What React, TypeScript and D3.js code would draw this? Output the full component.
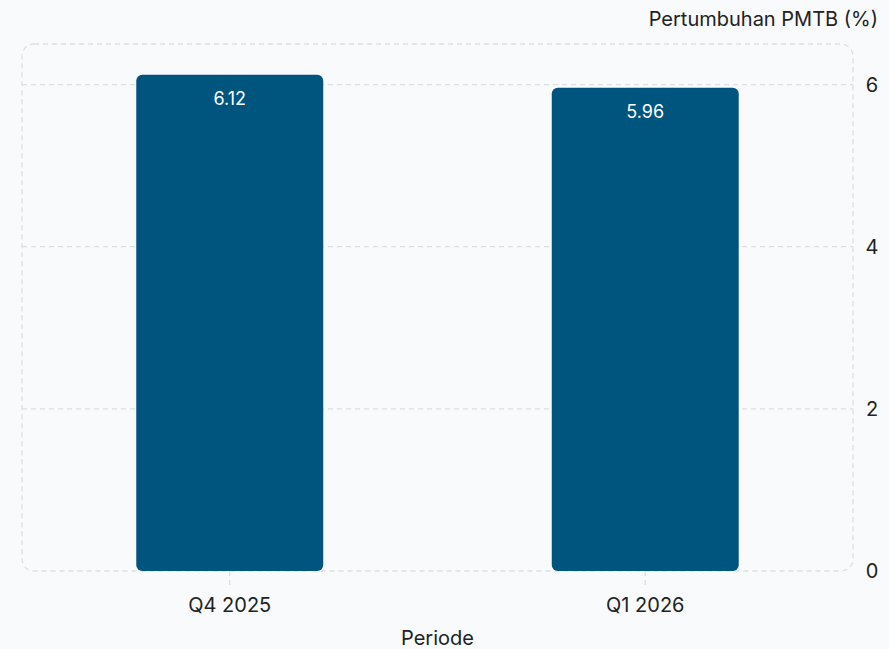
import { useEffect, useRef } from "react";
import * as d3 from "d3";

const periods = ["Q4 2025", "Q1 2026"];
const growth = [6.12, 5.96];
const yTicks = [0, 2, 4, 6];

const W = 889;
const H = 649;
const m = { top: 44, right: 36, bottom: 78, left: 22 };

const App = () => {
  const svgRef = useRef<SVGSVGElement>(null);

  useEffect(() => {
    document.body.style.margin = "0";
    const svg = d3.select(svgRef.current);
    svg.selectAll("*").remove();

    const x = d3
      .scaleBand()
      .domain(periods)
      .range([m.left, W - m.right])
      .padding(0);
    const y = d3
      .scaleLinear()
      .domain([0, 6.5])
      .range([H - m.bottom, m.top]);

    const font = "Inter, 'Noto Sans', sans-serif";

    svg.append("rect").attr("width", W).attr("height", H).attr("fill", "#f8fafc");

    // grid
    svg
      .append("g")
      .selectAll("line")
      .data(yTicks.filter((t) => t > 0))
      .join("line")
      .attr("x1", m.left)
      .attr("x2", W - m.right)
      .attr("y1", (d) => y(d))
      .attr("y2", (d) => y(d))
      .attr("stroke", "#dcdfe3")
      .attr("stroke-width", 1.3)
      .attr("stroke-dasharray", "5,4");

    // border of plot
    svg
      .append("rect")
      .attr("x", m.left)
      .attr("y", m.top)
      .attr("width", W - m.right - m.left)
      .attr("height", y(0) - m.top)
      .attr("rx", 12)
      .attr("fill", "none")
      .attr("stroke", "#dcdfe3")
      .attr("stroke-width", 1.3)
      .attr("stroke-dasharray", "5,4");

    // x ticks
    svg
      .append("g")
      .selectAll("line")
      .data(periods)
      .join("line")
      .attr("x1", (d) => x(d)! + x.bandwidth() / 2)
      .attr("x2", (d) => x(d)! + x.bandwidth() / 2)
      .attr("y1", y(0))
      .attr("y2", y(0) + 14)
      .attr("stroke", "#dcdfe3")
      .attr("stroke-width", 1.3)
      .attr("stroke-dasharray", "5,4");

    const bw = x.bandwidth() * 0.45;
    const bars = svg.append("g");
    bars
      .selectAll("rect")
      .data(periods)
      .join("rect")
      .attr("x", (d) => x(d)! + (x.bandwidth() - bw) / 2)
      .attr("width", bw)
      .attr("y", (_, i) => y(growth[i]))
      .attr("height", (_, i) => y(0) - y(growth[i]))
      .attr("rx", 6)
      .attr("fill", "#00557f");

    bars
      .selectAll("text")
      .data(periods)
      .join("text")
      .attr("x", (d) => x(d)! + x.bandwidth() / 2)
      .attr("y", (_, i) => y(growth[i]) + 30)
      .attr("text-anchor", "middle")
      .attr("fill", "#ffffff")
      .attr("font-family", font)
      .attr("font-size", 18)
      .text((_, i) => growth[i].toFixed(2));

    // x labels
    svg
      .append("g")
      .selectAll("text")
      .data(periods)
      .join("text")
      .attr("x", (d) => x(d)! + x.bandwidth() / 2)
      .attr("y", y(0) + 41)
      .attr("text-anchor", "middle")
      .attr("fill", "#222")
      .attr("font-family", font)
      .attr("font-size", 20)
      .text((d) => d);

    // y labels on the right
    svg
      .append("g")
      .selectAll("text")
      .data(yTicks)
      .join("text")
      .attr("x", W - 17)
      .attr("y", (d) => y(d))
      .attr("dy", "0.35em")
      .attr("text-anchor", "middle")
      .attr("fill", "#222")
      .attr("font-family", font)
      .attr("font-size", 20)
      .text((d) => d);

    svg
      .append("text")
      .attr("x", W - 11)
      .attr("y", 26)
      .attr("text-anchor", "end")
      .attr("fill", "#222")
      .attr("font-family", font)
      .attr("font-size", 20)
      .text("Pertumbuhan PMTB (%)");

    svg
      .append("text")
      .attr("x", (m.left + W - m.right) / 2)
      .attr("y", 645)
      .attr("text-anchor", "middle")
      .attr("fill", "#222")
      .attr("font-family", font)
      .attr("font-size", 20)
      .text("Periode");
  }, []);

  return <svg ref={svgRef} width={W} height={H} style={{ display: "block" }}></svg>;
};

export default App;
